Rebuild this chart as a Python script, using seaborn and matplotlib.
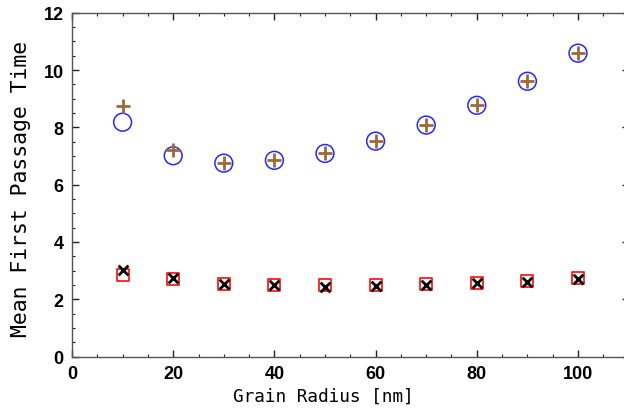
import matplotlib
matplotlib.use('Agg')
import matplotlib.pyplot as plt
import seaborn as sns
from matplotlib.ticker import MultipleLocator

# Dados
raio = [10, 20, 30, 40, 50, 60, 70, 80, 90, 100]
tempo_circulo = [8.18, 7.01, 6.75, 6.85, 7.09, 7.52, 8.08, 8.77, 9.61, 10.59]
tempo_mais = [8.76, 7.22, 6.77, 6.87, 7.10, 7.52, 8.08, 8.77, 9.61, 10.59]
tempo_quadrado = [2.83, 2.69, 2.54, 2.51, 2.48, 2.51, 2.52, 2.58, 2.65, 2.74]
tempo_x = [3.01, 2.73, 2.52, 2.48, 2.44, 2.47, 2.48, 2.55, 2.61, 2.72]

sns.set_style('ticks')
plt.rcParams['text.color'] = 'black'
plt.rcParams['axes.labelcolor'] = 'black'
plt.rcParams['xtick.color'] = 'black'
plt.rcParams['ytick.color'] = 'black'

fig = plt.figure(figsize=(6.24, 4.10), dpi=100)
# eixo direito fica logo além da borda da figura
ax = fig.add_axes([72 / 624, 52.5 / 410, 556.6 / 624, 343.7 / 410])

sns.scatterplot(x=raio, y=tempo_circulo, marker='o', s=165, facecolors='none',
                edgecolor='#2626ff', linewidth=1.1, ax=ax, zorder=3)
sns.scatterplot(x=raio, y=tempo_mais, marker='+', s=110, color='#9c6a38',
                linewidth=2.0, ax=ax, zorder=4)
sns.scatterplot(x=raio, y=tempo_quadrado, marker='s', s=75, facecolors='none',
                edgecolor='#ff1a1a', linewidth=1.3, ax=ax, zorder=3)
sns.scatterplot(x=raio, y=tempo_x, marker='x', s=50, color='black',
                linewidth=2.0, ax=ax, zorder=4)

ax.set_xlim(0, 110)
ax.set_ylim(0, 12)
ax.xaxis.set_major_locator(MultipleLocator(20))
ax.xaxis.set_minor_locator(MultipleLocator(5))
ax.yaxis.set_major_locator(MultipleLocator(2))
ax.yaxis.set_minor_locator(MultipleLocator(0.5))

ax.tick_params(which='both', direction='in', top=True, right=True, color='#222222')
ax.tick_params(which='major', length=5, width=1.0, pad=6)
ax.tick_params(which='minor', length=2.5, width=0.8)
for spine in ax.spines.values():
    spine.set_color('#555555')
    spine.set_linewidth(1.0)
ax.spines['right'].set_visible(False)

for lbl in ax.get_xticklabels() + ax.get_yticklabels():
    lbl.set_fontfamily('Liberation Sans')
    lbl.set_fontweight('bold')
    lbl.set_fontsize(13)
    lbl.set_color('black')

ax.set_xlabel('Grain Radius [nm]', fontfamily='DejaVu Sans Mono', fontsize=12.8)
ax.set_ylabel('Mean First Passage Time', fontfamily='DejaVu Sans Mono', fontsize=15.4)
ax.xaxis.set_label_coords(0.451, -0.088)
ax.yaxis.set_label_coords(-0.074, 0.49)

fig.savefig('out.png', dpi=100)
